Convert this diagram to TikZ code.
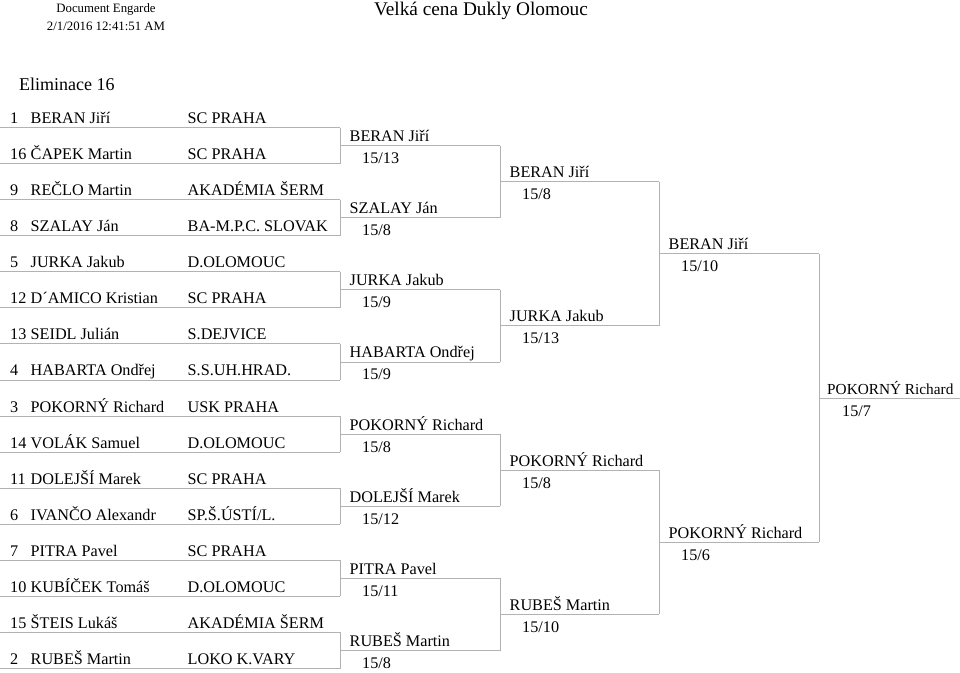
\documentclass[tikz,border=0pt]{standalone}
\usepackage{fontspec}
\setmainfont{Liberation Serif}
\definecolor{linegray}{gray}{0.7}
\begin{document}
\begin{tikzpicture}[x=1pt,y=-1pt,
  bline/.style={draw=linegray, line width=0.9pt},
  txt/.style={inner sep=0pt, anchor=base west, font=\fontsize{16.2}{19}\selectfont},
  hdr/.style={inner sep=0pt, anchor=base, font=\fontsize{12.8}{15}\selectfont},
  big/.style={inner sep=0pt, font=\fontsize{19.3}{22}\selectfont}]
\useasboundingbox (0,0) rectangle (960,672);
% header
\node[hdr] (doc) at (106,12.5) {Document Engarde};
\node[hdr] (date) at (106,30) {2/1/2016 12:41:51 AM};
\node[big, anchor=base] (title) at (481,15) {Velká cena Dukly Olomouc};
\node[big, anchor=base west, font=\fontsize{18}{21}\selectfont] (elim) at (19,90) {Eliminace 16};
% first column
\foreach \i/\num/\name/\club in {
  0/1/BERAN Jiří/SC PRAHA,
  1/16/ČAPEK Martin/SC PRAHA,
  2/9/REČLO Martin/AKADÉMIA ŠERM,
  3/8/SZALAY Ján/BA-M.P.C. SLOVAK,
  4/5/JURKA Jakub/D.OLOMOUC,
  5/12/D´AMICO Kristian/SC PRAHA,
  6/13/SEIDL Julián/S.DEJVICE,
  7/4/HABARTA Ondřej/S.S.UH.HRAD.,
  8/3/POKORNÝ Richard/USK PRAHA,
  9/14/VOLÁK Samuel/D.OLOMOUC,
  10/11/DOLEJŠÍ Marek/SC PRAHA,
  11/6/IVANČO Alexandr/{SP.Š.ÚSTÍ/L.},
  12/7/PITRA Pavel/SC PRAHA,
  13/10/KUBÍČEK Tomáš/D.OLOMOUC,
  14/15/ŠTEIS Lukáš/AKADÉMIA ŠERM,
  15/2/RUBEŠ Martin/LOKO K.VARY}{
  \pgfmathsetmacro{\yy}{127.5+36.07*\i}
  \coordinate (a\i) at (0,\yy);
  \coordinate (b\i) at (340,\yy);
  \draw[bline] (a\i) -- (b\i);
  \node[txt] (num\i) at (10,\yy-4) {\num};
  \node[txt] (name\i) at (30.5,\yy-4) {\name};
  \node[txt] (club\i) at (187.5,\yy-4) {\club};
}
% second column
\foreach \k/\name/\score in {
  0/BERAN Jiří/{15/13},
  1/SZALAY Ján/{15/8},
  2/JURKA Jakub/{15/9},
  3/HABARTA Ondřej/{15/9},
  4/POKORNÝ Richard/{15/8},
  5/DOLEJŠÍ Marek/{15/12},
  6/PITRA Pavel/{15/11},
  7/RUBEŠ Martin/{15/8}}{
  \pgfmathsetmacro{\yy}{127.5+36.07*(2*\k+0.5)}
  \pgfmathtruncatemacro{\ka}{2*\k}
  \pgfmathtruncatemacro{\kb}{2*\k+1}
  \coordinate (c\k) at (340,\yy);
  \coordinate (d\k) at (500,\yy);
  \draw[bline] (b\ka) -- (b\kb);
  \draw[bline] (c\k) -- (d\k);
  \node[txt] (wa\k) at (349.5,\yy-4) {\name};
  \node[txt] (sa\k) at (362,\yy+18) {\score};
}
% third column
\foreach \k/\name/\score in {
  0/BERAN Jiří/{15/8},
  1/JURKA Jakub/{15/13},
  2/POKORNÝ Richard/{15/8},
  3/RUBEŠ Martin/{15/10}}{
  \pgfmathsetmacro{\yy}{127.5+36.07*(4*\k+1.5)}
  \pgfmathtruncatemacro{\ka}{2*\k}
  \pgfmathtruncatemacro{\kb}{2*\k+1}
  \coordinate (e\k) at (500,\yy);
  \coordinate (f\k) at (659,\yy);
  \draw[bline] (d\ka) -- (d\kb);
  \draw[bline] (e\k) -- (f\k);
  \node[txt] (wb\k) at (509.5,\yy-4) {\name};
  \node[txt] (sb\k) at (522,\yy+18) {\score};
}
% fourth column
\foreach \k/\name/\score in {
  0/BERAN Jiří/{15/10},
  1/POKORNÝ Richard/{15/6}}{
  \pgfmathsetmacro{\yy}{127.5+36.07*(8*\k+3.5)}
  \pgfmathtruncatemacro{\ka}{2*\k}
  \pgfmathtruncatemacro{\kb}{2*\k+1}
  \coordinate (g\k) at (659,\yy);
  \coordinate (h\k) at (819,\yy);
  \draw[bline] (f\ka) -- (f\kb);
  \draw[bline] (g\k) -- (h\k);
  \node[txt] (wc\k) at (668.5,\yy-4) {\name};
  \node[txt] (sc\k) at (681,\yy+18) {\score};
}
% final
\pgfmathsetmacro{\yy}{127.5+36.07*7.5}
\coordinate (i0) at (819,\yy);
\coordinate (j0) at (960,\yy);
\draw[bline] (h0) -- (h1);
\draw[bline] (i0) -- (j0);
\node[txt, font=\fontsize{15.3}{18}\selectfont] (wd0) at (827,\yy-4) {POKORNÝ Richard};
\node[txt] (sd0) at (842,\yy+18) {15/7};
\end{tikzpicture}
\end{document}
